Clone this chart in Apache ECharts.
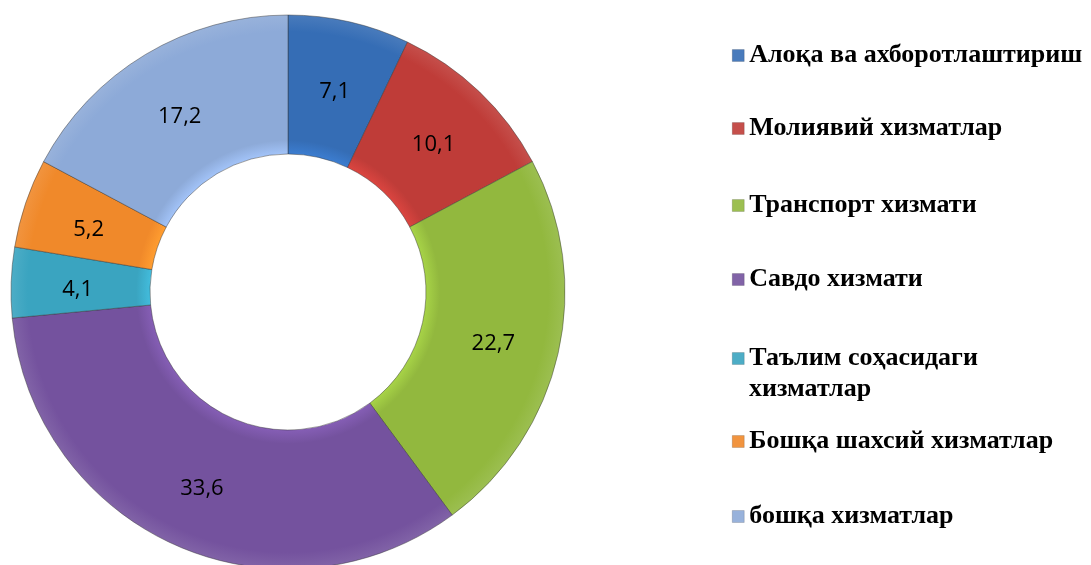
<!DOCTYPE html>
<html lang="uz">
<head>
    <meta charset="UTF-8">
    <title>Хизматлар таркиби</title>
    <script src="https://cdn.jsdelivr.net/npm/echarts@6/dist/echarts.min.js"></script>
    <style>
        html, body { margin: 0; padding: 0; background: #fff; }
        #chart { width: 1091px; height: 565px; }
    </style>
</head>
<body>
    <div id="chart"></div>

    <script>
        // data (shares, %)
        const names = [
            'Алоқа ва ахборотлаштириш',
            'Молиявий хизматлар',
            'Транспорт хизмати',
            'Савдо хизмати',
            'Таълим соҳасидаги хизматлар',
            'Бошқа шахсий хизматлар',
            'бошқа хизматлар'
        ];
        const values = [7.1, 10.1, 22.7, 33.6, 4.1, 5.2, 17.2];
        const colors = ['#356db5', '#bf3c38', '#92b83e', '#74529e', '#3aa4c0', '#f0892a', '#8daad8'];

        // legend rows sit at their own heights, as in the original
        const legendTops = [40, 113, 190, 264, 343, 426, 501];

        const CX = 288, CY = 292, R0 = 138, R1 = 277;

        // soft bevel: light rim at the hole, darker rim outside
        function bevel(c) {
            return {
                type: 'radial', x: CX, y: CY, r: R1, global: true,
                colorStops: [
                    { offset: R0 / R1, color: echarts.color.lift(c, -0.15) },
                    { offset: R0 / R1 + 0.05, color: c },
                    { offset: 0.94, color: c },
                    { offset: 1, color: echarts.color.lift(c, 0.1) }
                ]
            };
        }

        const chart = echarts.init(document.getElementById('chart'), null, { renderer: 'canvas' });

        chart.setOption({
            animation: false,
            legend: names.map((n, i) => ({
                data: [n],
                left: 732,
                top: legendTops[i],
                icon: 'rect',
                itemWidth: 12,
                itemHeight: 12,
                padding: 0,
                selectedMode: false,
                formatter: name => name === 'Таълим соҳасидаги хизматлар' ? 'Таълим соҳасидаги' : name,
                itemStyle: { borderColor: 'rgba(0,0,0,0.3)', borderWidth: 0.5 },
                textStyle: {
                    fontFamily: 'Liberation Serif',
                    fontWeight: 'bold',
                    fontSize: 26,
                    lineHeight: 31,
                    color: '#000'
                }
            })),
            graphic: [{
                type: 'text',
                left: 749,
                top: legendTops[4] + 33,
                style: {
                    text: 'хизматлар',
                    fill: '#000',
                    font: 'bold 26px "Liberation Serif"'
                }
            }],
            series: [{
                type: 'pie',
                center: [CX, CY],
                radius: [R0, R1],
                startAngle: 90,
                clockwise: true,
                avoidLabelOverlap: false,
                label: {
                    show: true,
                    position: 'inside',
                    offset: [0, 5],
                    formatter: p => String(p.value).replace('.', ','),
                    fontFamily: 'Open Sans',
                    fontSize: 22,
                    color: '#000'
                },
                labelLine: { show: false },
                emphasis: { disabled: true },
                itemStyle: {
                    borderColor: 'rgba(50,50,50,0.45)',
                    borderWidth: 1
                },
                data: names.map((n, i) => ({
                    name: n,
                    value: values[i],
                    itemStyle: { color: bevel(colors[i]) }
                }))
            }]
        });
    </script>
</body>
</html>
